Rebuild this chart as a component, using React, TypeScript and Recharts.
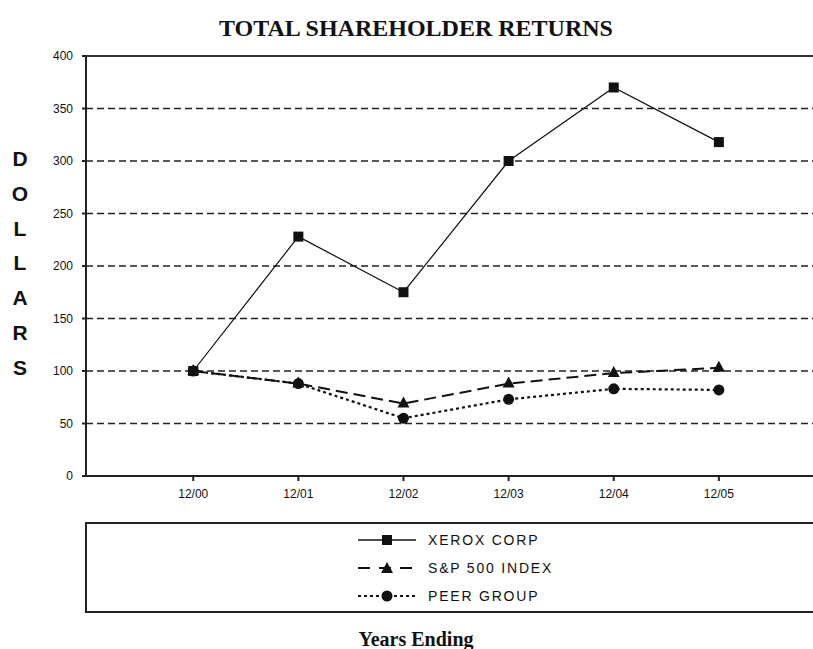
import * as React from "react";
import {
  LineChart,
  Line,
  XAxis,
  YAxis,
  CartesianGrid,
  ReferenceLine,
} from "recharts";

const years = ["12/00", "12/01", "12/02", "12/03", "12/04", "12/05"];
const xerox = [100, 228, 175, 300, 370, 318];
const sp500 = [100, 88, 69, 88, 98, 103];
const peer = [100, 88, 55, 73, 83, 82];
const yTicks = [0, 50, 100, 150, 200, 250, 300, 350, 400];

const data = years.map((y, i) => ({
  x: i,
  label: y,
  xerox: xerox[i],
  sp: sp500[i],
  peer: peer[i],
}));

const INK = "#111";
const SANS = "Liberation Sans, Arial, sans-serif";
const SERIF = "Liberation Serif, Times New Roman, serif";
const tickFont = { fontSize: 12, fill: INK, fontFamily: SANS };

function SquareDot(props: any) {
  const { cx, cy, index } = props;
  return <rect key={`sq-${index}`} x={cx - 5} y={cy - 5} width={10} height={10} fill={INK} />;
}

function TriangleDot(props: any) {
  const { cx, cy, index } = props;
  return (
    <polygon
      key={`tr-${index}`}
      points={`${cx},${cy - 7} ${cx + 6},${cy + 4} ${cx - 6},${cy + 4}`}
      fill={INK}
    />
  );
}

function CircleDot(props: any) {
  const { cx, cy, index } = props;
  return <circle key={`ci-${index}`} cx={cx} cy={cy} r={5.5} fill={INK} />;
}

const legendRows = [
  { name: "XEROX CORP", dash: undefined, width: 1.5, marker: "square" },
  { name: "S&P 500 INDEX", dash: "12 9", width: 2, marker: "triangle" },
  { name: "PEER GROUP", dash: "3 3", width: 2, marker: "circle" },
];

function LegendBox() {
  return (
    <div
      style={{
        position: "absolute",
        left: 85,
        top: 522,
        width: 760,
        height: 91,
        border: "2px solid #222",
        boxSizing: "border-box",
        background: "#fff",
      }}
    >
      {legendRows.map((r, i) => (
        <div
          key={r.name}
          style={{
            position: "absolute",
            left: 270,
            top: 5 + i * 28,
            height: 22,
            display: "flex",
            alignItems: "center",
          }}
        >
          <svg width={60} height={22}>
            <line
              x1={1}
              x2={59}
              y1={11}
              y2={11}
              stroke={INK}
              strokeWidth={r.width}
              strokeDasharray={r.dash}
            />
            {r.marker === "square" && <rect x={25} y={6} width={10} height={10} fill={INK} />}
            {r.marker === "triangle" && <polygon points="30,5 36,16 24,16" fill={INK} />}
            {r.marker === "circle" && <circle cx={30} cy={11} r={5.5} fill={INK} />}
          </svg>
          <span
            style={{
              marginLeft: 11,
              fontFamily: SANS,
              fontSize: 14,
              letterSpacing: 1.8,
              color: INK,
            }}
          >
            {r.name}
          </span>
        </div>
      ))}
    </div>
  );
}

const dollars = ["D", "O", "L", "L", "A", "R", "S"];

export default function App() {
  return (
    <div
      style={{
        position: "fixed",
        left: 0,
        top: 0,
        width: 813,
        height: 649,
        overflow: "hidden",
        background: "#fff",
      }}
    >
      <div
        style={{
          position: "absolute",
          left: 0,
          width: 832,
          top: 15,
          textAlign: "center",
          fontFamily: SERIF,
          fontWeight: "bold",
          fontSize: 24,
          lineHeight: "26px",
          color: INK,
        }}
      >
        TOTAL SHAREHOLDER RETURNS
      </div>
      {dollars.map((c, i) => (
        <div
          key={i}
          style={{
            position: "absolute",
            left: 8,
            width: 24,
            top: 146 + i * 34.8,
            lineHeight: "26px",
            textAlign: "center",
            fontFamily: SANS,
            fontWeight: "bold",
            fontSize: 21,
            color: INK,
          }}
        >
          {c}
        </div>
      ))}
      <div style={{ position: "absolute", left: 0, top: 0 }}>
        <LineChart
          width={900}
          height={649}
          data={data}
          margin={{ top: 56, right: 76, bottom: 143, left: 46 }}
        >
          <CartesianGrid
            vertical={false}
            horizontalValues={[50, 100, 150, 200, 250, 300, 350]}
            stroke="#222"
            strokeWidth={1.6}
            strokeDasharray="7 4"
          />
          <ReferenceLine y={400} stroke="#333" strokeWidth={2} />
          <XAxis
            dataKey="x"
            type="number"
            domain={[-1.02, 6]}
            ticks={[0, 1, 2, 3, 4, 5]}
            tickFormatter={(v: number) => years[v]}
            tick={tickFont}
            tickSize={5}
            tickMargin={8}
            stroke="#222"
            strokeWidth={2}
            height={30}
            allowDataOverflow
          />
          <YAxis
            type="number"
            domain={[0, 400]}
            ticks={yTicks}
            tick={tickFont}
            tickSize={4}
            tickMargin={9}
            stroke="#222"
            strokeWidth={2}
            width={40}
          />
          <Line
            dataKey="peer"
            stroke={INK}
            strokeWidth={2.2}
            strokeDasharray="3 3"
            dot={CircleDot}
            activeDot={false}
            isAnimationActive={false}
          />
          <Line
            dataKey="sp"
            stroke={INK}
            strokeWidth={2}
            strokeDasharray="12 6"
            dot={TriangleDot}
            activeDot={false}
            isAnimationActive={false}
          />
          <Line
            dataKey="xerox"
            stroke={INK}
            strokeWidth={1.2}
            dot={SquareDot}
            activeDot={false}
            isAnimationActive={false}
          />
        </LineChart>
      </div>
      <LegendBox />
      <div
        style={{
          position: "absolute",
          left: 0,
          width: 832,
          top: 627,
          lineHeight: "24px",
          textAlign: "center",
          fontFamily: SERIF,
          fontWeight: "bold",
          fontSize: 20,
          color: INK,
        }}
      >
        Years Ending
      </div>
    </div>
  );
}
